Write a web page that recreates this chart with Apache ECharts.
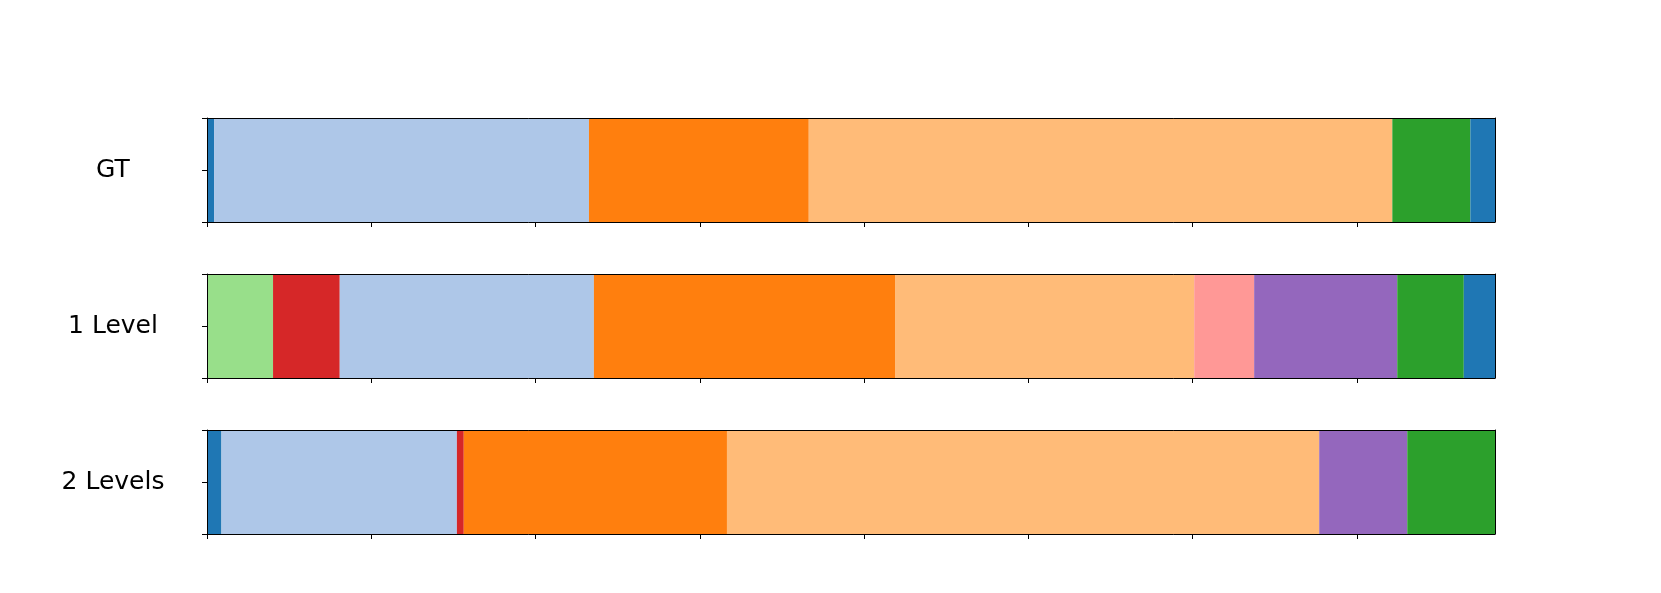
<!DOCTYPE html>
<html>
<head>
<meta charset="utf-8">
<script src="https://cdn.jsdelivr.net/npm/echarts@6/dist/echarts.min.js"></script>
<style>html,body{margin:0;padding:0;background:#fff;}#c{width:1661px;height:593px;}</style>
</head>
<body>
<div id="c"></div>
<script>
// Row names
const rowNames = ['GT', '1 Level', '2 Levels'];
// Segment boundaries (frame units) per row
const gtBounds = [0, 43, 2325, 3663, 7215, 7690, 7840];
const gtClasses = [0, 1, 2, 3, 4, 0];
const lvl1Bounds = [0, 402, 808, 2355, 4188, 6009, 6374, 7245, 7650, 7840];
const lvl1Classes = [5, 6, 1, 2, 3, 7, 8, 4, 0];
const lvl2Bounds = [0, 88, 1521, 1563, 3165, 6770, 7306, 7840];
const lvl2Classes = [0, 1, 6, 2, 3, 8, 4];
// Class palette (tab20)
const classColors = ['#1f77b4', '#aec7e8', '#ff7f0e', '#ffbb78', '#2ca02c', '#98df8a', '#d62728', '#ff9896', '#9467bd'];
const xMax = 7840;
const xTicks = [0, 1000, 2000, 3000, 4000, 5000, 6000, 7000];
const yTicks = [0, 1, 2];

const rows = [
  {bounds: gtBounds, classes: gtClasses},
  {bounds: lvl1Bounds, classes: lvl1Classes},
  {bounds: lvl2Bounds, classes: lvl2Classes}
];

const gridTops = [118, 274, 430];
const grids = [], xAxes = [], yAxes = [], series = [];
const line = {show: true, onZero: false, lineStyle: {color: '#000', width: 1}};
rows.forEach((r, i) => {
  grids.push({left: 207, right: 166, top: gridTops[i], height: 104, show: false});
  xAxes.push({
    type: 'value', gridIndex: i, min: 0, max: xMax, interval: 1000, position: 'bottom', z: 5,
    axisLine: line,
    axisTick: {show: true, length: 5, customValues: xTicks, lineStyle: {color: '#000', width: 1}},
    axisLabel: {show: false}, splitLine: {show: false}
  });
  xAxes.push({
    type: 'value', gridIndex: i, min: 0, max: xMax, position: 'top', z: 5,
    axisLine: line,
    axisTick: {show: false}, axisLabel: {show: false}, splitLine: {show: false}
  });
  yAxes.push({
    type: 'value', gridIndex: i, min: 0, max: 2, interval: 1, position: 'left', z: 5,
    axisLine: line,
    axisTick: {show: true, length: 5, customValues: yTicks, lineStyle: {color: '#000', width: 1}},
    axisLabel: {
      show: true, margin: 94, align: 'center', color: '#000', fontSize: 25, fontFamily: 'DejaVu Sans',
      formatter: v => (v === 1 ? rowNames[i] : '')
    },
    splitLine: {show: false}
  });
  yAxes.push({
    type: 'value', gridIndex: i, min: 0, max: 2, position: 'right', z: 5,
    axisLine: line,
    axisTick: {show: false}, axisLabel: {show: false}, splitLine: {show: false}
  });
  const data = r.classes.map((c, k) => [r.bounds[k], r.bounds[k + 1], c]);
  series.push({
    type: 'custom', xAxisIndex: i * 2, yAxisIndex: i * 2, z: 1,
    data: data,
    renderItem: (params, api) => {
      const p0 = api.coord([api.value(0), 2]);
      const p1 = api.coord([api.value(1), 0]);
      return {
        type: 'rect',
        shape: {x: p0[0], y: p0[1], width: p1[0] - p0[0], height: p1[1] - p0[1]},
        style: {fill: classColors[api.value(2)]}
      };
    },
    encode: {x: [0, 1]}
  });
});

const chart = echarts.init(document.getElementById('c'));
chart.setOption({
  animation: false,
  grid: grids, xAxis: xAxes, yAxis: yAxes, series: series
});
</script>
</body>
</html>
